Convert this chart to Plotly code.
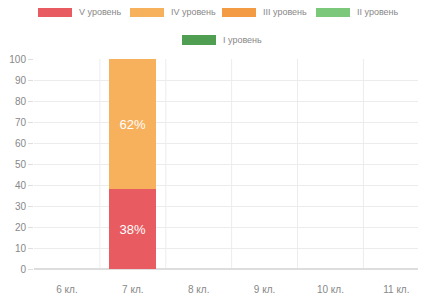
import plotly.graph_objects as go

categories = ["6 кл.", "7 кл.", "8 кл.", "9 кл.", "10 кл.", "11 кл."]
series_names = ["V уровень", "IV уровень", "III уровень", "II уровень", "I уровень"]
v_level = [None, 38, None, None, None, None]
iv_level = [None, 62, None, None, None, None]
iii_level = [None, None, None, None, None, None]
ii_level = [None, None, None, None, None, None]
i_level = [None, None, None, None, None, None]
y_ticks = [0, 10, 20, 30, 40, 50, 60, 70, 80, 90, 100]

colors = ["#e85b60", "#f7b05c", "#f39a45", "#7cc87a", "#4f9e52"]
all_values = [v_level, iv_level, iii_level, ii_level, i_level]

OFF = 8  # default page body margin
W, H = 426 - OFF, 297 - OFF
L, R, T, B = 34 - OFF, 0, 59 - OFF, 28
pw, ph = W - L - R, H - T - B

def px(x):  # page x -> paper
    return (x - OFF - L) / pw

def py(y):  # page y -> paper
    return (H - B - (y - OFF)) / ph

FONT = "Liberation Sans Narrow, Liberation Sans"

fig = go.Figure()
for name, vals, col in zip(series_names, all_values, colors):
    fig.add_trace(go.Bar(
        x=categories, y=vals, name=name, marker=dict(color=col, line=dict(width=0)),
        text=[f"{v}%" if v else "" for v in vals], textposition="inside",
        insidetextanchor="middle",
        textfont=dict(color="white", size=13, family=FONT),
        width=0.71, showlegend=False,
    ))

shapes = []
for i in range(len(categories)):
    shapes.append(dict(type="line", xref="x", yref="paper", x0=i + 0.5, x1=i + 0.5,
                       y0=0, y1=1, line=dict(color="#ececec", width=1), layer="below"))

annotations = []
legend_pos = [(38, 12), (130, 12), (222, 12), (316, 12), (182, 40)]
for (x0, yc), name, col in zip(legend_pos, series_names, colors):
    shapes.append(dict(type="rect", xref="paper", yref="paper",
                       x0=px(x0), x1=px(x0 + 34), y0=py(yc + 5), y1=py(yc - 5),
                       fillcolor=col, line=dict(width=0)))
    annotations.append(dict(xref="paper", yref="paper", x=px(x0 + 39), y=py(yc),
                            text=name, showarrow=False, xanchor="left", yanchor="middle",
                            font=dict(size=9, color="#888", family=FONT)))

fig.update_layout(
    width=W, height=H, barmode="stack",
    margin=dict(l=L, r=R, t=T, b=B, autoexpand=False),
    paper_bgcolor="white", plot_bgcolor="white",
    shapes=shapes, annotations=annotations,
    xaxis=dict(range=[-0.5, 5.45], showgrid=False, zeroline=False, showline=False,
               automargin=False,
               ticks="", tickfont=dict(size=10, color="#888", family=FONT),
               ticklabelstandoff=13),
    yaxis=dict(range=[0, 100], tickvals=y_ticks, showgrid=True, gridcolor="#ececec",
               automargin=False,
               zeroline=True, zerolinecolor="#dddddd", showline=False,
               ticks="outside", ticklen=5, tickcolor="#dddddd",
               tickfont=dict(size=10, color="#888", family=FONT)),
    bargap=0.3, showlegend=False,
)

fig.write_html("out.html")
